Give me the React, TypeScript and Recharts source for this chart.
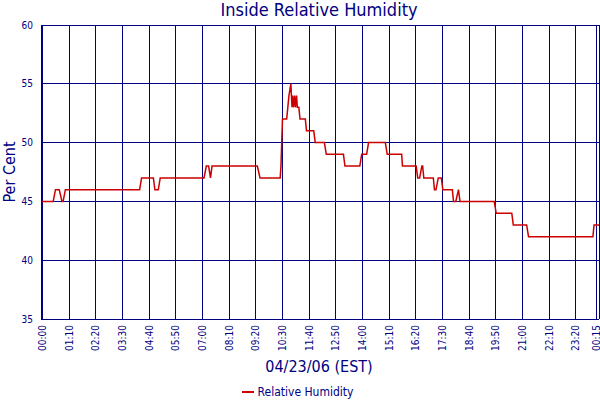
import * as React from "react";
import {
  LineChart,
  Line,
  XAxis,
  YAxis,
  CartesianGrid,
  Legend,
} from "recharts";

// minutes since 00:00 on 04/23/06
const times = [
  -4, 28, 34, 44, 51, 54, 60, 255, 260, 291, 295, 304, 309, 424, 430, 436,
  441, 445, 564, 571, 624, 626, 628, 630, 637, 641, 644, 647, 652, 655, 657,
  659, 662, 664, 667, 669, 673, 676, 690, 693, 712, 716, 740, 745, 790, 794,
  833, 838, 851, 856, 900, 905, 943, 945, 981, 985, 990, 996, 998, 1001, 1026,
  1029, 1033, 1039, 1047, 1051, 1076, 1079, 1085, 1092, 1096, 1186, 1191,
  1232, 1236, 1271, 1276, 1445, 1448, 1461,
];

const humidity = [
  45, 45, 46, 46, 45, 45, 46, 46, 47, 47, 46, 46, 47, 47, 48, 48,
  47, 48, 48, 47, 47, 48, 50, 52, 52, 52, 53, 54, 55, 53, 54,
  53, 54, 53, 54, 53, 53, 52, 52, 51, 51, 50, 50, 49, 49, 48,
  48, 49, 49, 50, 50, 49, 49, 48, 48, 47, 47, 48, 48, 47, 47,
  46, 46, 47, 47, 46, 46, 45, 45, 46, 45, 45, 44,
  44, 43, 43, 42, 42, 43, 43,
];

const xTicks = [
  0, 70, 140, 210, 280, 350, 420, 490, 560, 630, 700, 770, 840, 910, 980,
  1050, 1120, 1190, 1260, 1330, 1400, 1455,
];
const yTicks = [35, 40, 45, 50, 55, 60];

const data = times.map((t, i) => ({ t, rh: humidity[i] }));

const NAVY = "#000080";
const RED = "#cc0000";
const FONT = "'DejaVu Sans Condensed', 'DejaVu Sans', sans-serif";

const fmtTime = (m: number) => {
  const mm = ((m % 1440) + 1440) % 1440;
  const h = Math.floor(mm / 60);
  const min = mm % 60;
  return `${String(h).padStart(2, "0")}:${String(min).padStart(2, "0")}`;
};

const TimeTick = (props: any) => {
  const { x, y, payload } = props;
  return (
    <text
      x={x}
      y={y}
      transform={`rotate(-90, ${x}, ${y})`}
      textAnchor="end"
      dy="0.35em"
      fill={NAVY}
      fontSize={10}
      fontFamily={FONT}
    >
      {fmtTime(payload.value)}
    </text>
  );
};

const LegendContent = () => (
  <div
    style={{
      display: "flex",
      justifyContent: "center",
      alignItems: "center",
      fontFamily: FONT,
      fontSize: 12,
      color: NAVY,
      paddingTop: 3,
      paddingRight: 4,
    }}
  >
    <span
      style={{
        display: "inline-block",
        width: 12,
        height: 2,
        background: RED,
        marginRight: 4,
      }}
    />
    Relative Humidity
  </div>
);

export default function App() {
  return (
    <div style={{ position: "absolute", left: 0, top: 0, background: "#fff" }}>
      <LineChart
        width={600}
        height={400}
        data={data}
        margin={{ top: 25, right: 1, bottom: 0, left: 0 }}
      >
        <CartesianGrid stroke={NAVY} strokeWidth={1} shapeRendering="crispEdges" />
        <XAxis
          dataKey="t"
          type="number"
          domain={[-4, 1461]}
          ticks={xTicks}
          interval={0}
          tickLine={false}
          tickSize={4}
          tickMargin={2}
          axisLine={{ stroke: NAVY, shapeRendering: "crispEdges" }}
          tick={<TimeTick />}
          height={63}
        />
        <YAxis
          type="number"
          domain={[35, 60]}
          ticks={yTicks}
          interval={0}
          tickLine={false}
          axisLine={{ stroke: NAVY, shapeRendering: "crispEdges" }}
          tick={{ fill: NAVY, fontSize: 10, fontFamily: FONT }}
          width={41}
        />
        <Legend verticalAlign="bottom" height={18} content={<LegendContent />} />
        <Line
          type="linear"
          dataKey="rh"
          name="Relative Humidity"
          stroke={RED}
          strokeWidth={1.5}
          dot={false}
          isAnimationActive={false}
        />
        <text
          x={319}
          y={16}
          textAnchor="middle"
          fill={NAVY}
          fontSize={18}
          fontFamily={FONT}
        >
          Inside Relative Humidity
        </text>
        <text
          x={319}
          y={372}
          textAnchor="middle"
          fill={NAVY}
          fontSize={16}
          fontFamily={FONT}
        >
          04/23/06 (EST)
        </text>
        <text
          x={9}
          y={172}
          transform="rotate(-90, 9, 172)"
          textAnchor="middle"
          dominantBaseline="central"
          fill={NAVY}
          fontSize={16}
          fontFamily={FONT}
        >
          Per Cent
        </text>
      </LineChart>
    </div>
  );
}
